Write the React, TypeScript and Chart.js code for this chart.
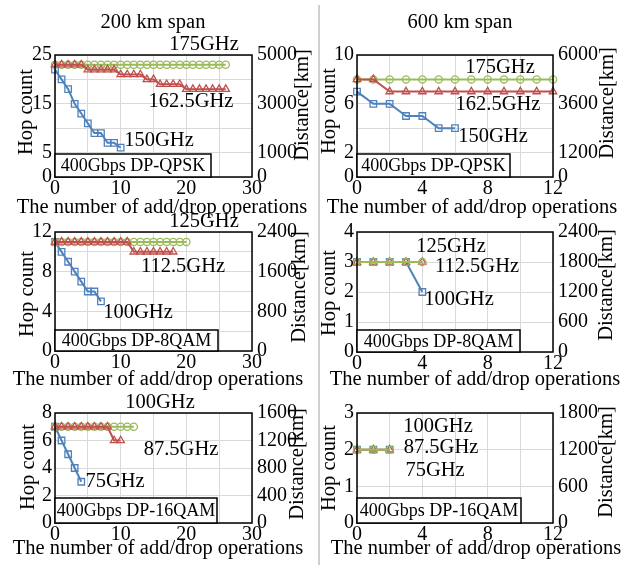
import React, { useEffect, useRef } from 'react';
import { Chart, registerables } from 'chart.js';

Chart.register(...registerables);

// ---------- data (hop count per number of add/drop operations; x = index) ----------
// 200 km span, 400Gbps DP-QPSK
const qpsk200_150 = [22, 20, 18, 15, 13, 11, 9, 9, 7, 7, 6];
const qpsk200_162 = [23, 23, 23, 23, 23, 22, 22, 22, 22, 22, 21, 21, 21, 21, 20, 20, 19, 19, 19, 19, 18, 18, 18, 18, 18, 18, 18];
const qpsk200_175 = [23, 23, 23, 23, 23, 23, 23, 23, 23, 23, 23, 23, 23, 23, 23, 23, 23, 23, 23, 23, 23, 23, 23, 23, 23, 23, 23];
// 600 km span, 400Gbps DP-QPSK
const qpsk600_150 = [7, 6, 6, 5, 5, 4, 4];
const qpsk600_162 = [8, 8, 7, 7, 7, 7, 7, 7, 7, 7, 7, 7, 7];
const qpsk600_175 = [8, 8, 8, 8, 8, 8, 8, 8, 8, 8, 8, 8, 8];
// 200 km span, 400Gbps DP-8QAM
const qam8_200_100 = [11, 10, 9, 8, 7, 6, 6, 5];
const qam8_200_112 = [11, 11, 11, 11, 11, 11, 11, 11, 11, 11, 11, 11, 10, 10, 10, 10, 10, 10, 10];
const qam8_200_125 = [11, 11, 11, 11, 11, 11, 11, 11, 11, 11, 11, 11, 11, 11, 11, 11, 11, 11, 11, 11, 11];
// 600 km span, 400Gbps DP-8QAM
const qam8_600_100 = [3, 3, 3, 3, 2];
const qam8_600_112 = [3, 3, 3, 3, 3];
const qam8_600_125 = [3, 3, 3, 3, 3];
// 200 km span, 400Gbps DP-16QAM
const qam16_200_75 = [7, 6, 5, 4, 3];
const qam16_200_87 = [7, 7, 7, 7, 7, 7, 7, 7, 7, 6, 6];
const qam16_200_100 = [7, 7, 7, 7, 7, 7, 7, 7, 7, 7, 7, 7, 7];
// 600 km span, 400Gbps DP-16QAM
const qam16_600_75 = [2, 2, 2];
const qam16_600_87 = [2, 2, 2];
const qam16_600_100 = [2, 2, 2];

// tick labels
const xLabels200 = [0, 10, 20, 30];
const xLabels600 = [0, 4, 8, 12];
const hopLabelsQ200 = [0, 5, 15, 25];
const distLabelsQ200 = [0, 1000, 3000, 5000];
const hopLabelsQ600 = [0, 2, 6, 10];
const distLabelsQ600 = [0, 1200, 3600, 6000];
const hopLabels8_200 = [0, 4, 8, 12];
const distLabels8_200 = [0, 800, 1600, 2400];
const hopLabels8_600 = [0, 1, 2, 3, 4];
const distLabels8_600 = [0, 600, 1200, 1800, 2400];
const hopLabels16_200 = [0, 2, 4, 6, 8];
const distLabels16_200 = [0, 400, 800, 1200, 1600];
const hopLabels16_600 = [0, 1, 2, 3];
const distLabels16_600 = [0, 600, 1200, 1800];

// ---------- styles ----------
const BLUE = '#4F81BD';
const RED = '#C0504D';
const GREEN = '#9BBB59';
const GRID = '#D9D9D9';
const FAMILY = '"Liberation Serif", "Times New Roman", serif';
const W = 636;
const H = 565;

const XTITLE = 'The number of add/drop operations';

const mk = (values: number[], color: string, marker: string, order: number, name: string) => ({ values, color, marker, order, name });

const panels = [
  {
    plot: { l: 55, t: 55, r: 252, b: 177 },
    xMax: 30, xStep: 5, xLabels: xLabels200,
    yMax: 25, yStep: 5, yLabels: hopLabelsQ200,
    dMax: 5000, dStep: 1000, dLabels: distLabelsQ200,
    series: [mk(qpsk200_150, BLUE, 'rect', 3, '150GHz'), mk(qpsk200_175, GREEN, 'circle', 2, '175GHz'), mk(qpsk200_162, RED, 'triangle', 1, '162.5GHz')],
    labels: [['175GHz', 204, 45], ['162.5GHz', 191, 102], ['150GHz', 159, 141]],
    box: { l: 55, t: 154, r: 211, b: 177, text: '400Gbps DP-QPSK' },
    hop: [27, 112], dist: [303, 105], xt: [162, 208], title: ['200 km span', 153, 23],
  },
  {
    plot: { l: 357, t: 55, r: 553, b: 177 },
    xMax: 12, xStep: 2, xLabels: xLabels600,
    yMax: 10, yStep: 2, yLabels: hopLabelsQ600,
    dMax: 6000, dStep: 1200, dLabels: distLabelsQ600,
    series: [mk(qpsk600_150, BLUE, 'rect', 3, '150GHz'), mk(qpsk600_175, GREEN, 'circle', 2, '175GHz'), mk(qpsk600_162, RED, 'triangle', 1, '162.5GHz')],
    labels: [['175GHz', 500, 68], ['162.5GHz', 498, 105], ['150GHz', 493, 137]],
    box: { l: 357, t: 154, r: 510, b: 177, text: '400Gbps DP-QPSK' },
    hop: [330, 111], dist: [608, 103], xt: [472, 208], title: ['600 km span', 460, 23],
  },
  {
    plot: { l: 55, t: 232, r: 252, b: 351 },
    xMax: 30, xStep: 5, xLabels: xLabels200,
    yMax: 12, yStep: 2, yLabels: hopLabels8_200,
    dMax: 2400, dStep: 400, dLabels: distLabels8_200,
    series: [mk(qam8_200_100, BLUE, 'rect', 3, '100GHz'), mk(qam8_200_125, GREEN, 'circle', 2, '125GHz'), mk(qam8_200_112, RED, 'triangle', 1, '112.5GHz')],
    labels: [['125GHz', 204, 222], ['112.5GHz', 183, 267], ['100GHz', 138, 313]],
    box: { l: 55, t: 330, r: 218, b: 351, text: '400Gbps DP-8QAM' },
    hop: [28, 294], dist: [300, 287], xt: [158, 380], title: null,
  },
  {
    plot: { l: 357, t: 232, r: 553, b: 352 },
    xMax: 12, xStep: 2, xLabels: xLabels600,
    yMax: 4, yStep: 1, yLabels: hopLabels8_600,
    dMax: 2400, dStep: 600, dLabels: distLabels8_600,
    series: [mk(qam8_600_100, BLUE, 'rect', 3, '100GHz'), mk(qam8_600_112, RED, 'triangle', 2, '112.5GHz'), mk(qam8_600_125, GREEN, 'circle', 1, '125GHz')],
    labels: [['125GHz', 451, 247], ['112.5GHz', 477, 267], ['100GHz', 459, 300]],
    box: { l: 357, t: 330, r: 520, b: 352, text: '400Gbps DP-8QAM' },
    hop: [330, 293], dist: [607, 285], xt: [475, 380], title: null,
  },
  {
    plot: { l: 55, t: 413, r: 252, b: 523 },
    xMax: 30, xStep: 5, xLabels: xLabels200,
    yMax: 8, yStep: 2, yLabels: hopLabels16_200,
    dMax: 1600, dStep: 400, dLabels: distLabels16_200,
    series: [mk(qam16_200_75, BLUE, 'rect', 3, '75GHz'), mk(qam16_200_100, GREEN, 'circle', 2, '100GHz'), mk(qam16_200_87, RED, 'triangle', 1, '87.5GHz')],
    labels: [['100GHz', 160, 403], ['87.5GHz', 181, 450], ['75GHz', 115, 482]],
    box: { l: 55, t: 498, r: 217, b: 523, text: '400Gbps DP-16QAM' },
    hop: [29, 467], dist: [298, 464], xt: [158, 549], title: null,
  },
  {
    plot: { l: 357, t: 413, r: 553, b: 523 },
    xMax: 12, xStep: 2, xLabels: xLabels600,
    yMax: 3, yStep: 1, yLabels: hopLabels16_600,
    dMax: 1800, dStep: 600, dLabels: distLabels16_600,
    series: [mk(qam16_600_75, BLUE, 'rect', 3, '75GHz'), mk(qam16_600_87, RED, 'triangle', 2, '87.5GHz'), mk(qam16_600_100, GREEN, 'circle', 1, '100GHz')],
    labels: [['100GHz', 438, 427], ['87.5GHz', 441, 448], ['75GHz', 435, 471]],
    box: { l: 357, t: 498, r: 521, b: 523, text: '400Gbps DP-16QAM' },
    hop: [330, 468], dist: [607, 462], xt: [476, 549], title: null,
  },
];

// fixed axis box thicknesses (large enough that tick labels are not clipped)
const AXL = 45;
const AXR = 60;
const AXB = 30;

function Panel({ cfg }: { cfg: any }) {
  const ref = useRef<HTMLCanvasElement | null>(null);
  useEffect(() => {
    const p = cfg.plot;
    const tickFont = { family: FAMILY, size: 20 };
    const textPlugin = {
      id: 'panelText',
      afterDraw(chart: any) {
        const ctx = chart.ctx;
        const a = chart.chartArea;
        ctx.save();
        // plot border
        ctx.strokeStyle = '#000';
        ctx.lineWidth = 1.5;
        ctx.strokeRect(a.left, a.top, a.right - a.left, a.bottom - a.top);
        // modulation box
        const b = cfg.box;
        ctx.fillStyle = '#fff';
        ctx.fillRect(b.l, b.t, b.r - b.l, b.b - b.t);
        ctx.strokeRect(b.l, b.t, b.r - b.l, b.b - b.t);
        ctx.fillStyle = '#000';
        ctx.textAlign = 'center';
        ctx.textBaseline = 'middle';
        ctx.font = `18px ${FAMILY}`;
        ctx.fillText(b.text, (b.l + b.r) / 2, (b.t + b.b) / 2 + 1);
        // series labels
        ctx.font = `20.5px ${FAMILY}`;
        cfg.labels.forEach((l: any) => ctx.fillText(l[0], l[1], l[2]));
        // titles
        if (cfg.title) ctx.fillText(cfg.title[0], cfg.title[1], cfg.title[2]);
        ctx.fillText(XTITLE, cfg.xt[0], cfg.xt[1]);
        const vtext = (t: string, x: number, y: number) => {
          ctx.save();
          ctx.translate(x, y);
          ctx.rotate(-Math.PI / 2);
          ctx.fillText(t, 0, 0);
          ctx.restore();
        };
        vtext('Hop count', cfg.hop[0], cfg.hop[1]);
        vtext('Distance[km]', cfg.dist[0], cfg.dist[1]);
        ctx.restore();
      },
    };
    const chart = new Chart(ref.current as HTMLCanvasElement, {
      type: 'line',
      data: {
        datasets: cfg.series.map((s: any) => ({
          label: s.name,
          data: s.values.map((v: number, i: number) => ({ x: i, y: v })),
          borderColor: s.color,
          backgroundColor: s.color,
          borderWidth: 2,
          pointStyle: s.marker,
          pointRadius: s.marker === 'circle' ? 3.6 : s.marker === 'rect' ? 4.6 : 4.3,
          pointBorderWidth: 1.3,
          pointBackgroundColor: 'rgba(255,255,255,0)',
          pointBorderColor: s.color,
          tension: 0,
          order: s.order,
          clip: false,
          xAxisID: 'x',
          yAxisID: 'y',
        })),
      },
      options: {
        responsive: false,
        animation: false,
        devicePixelRatio: 1,
        events: [],
        layout: { padding: { left: p.l - AXL, right: W - p.r - AXR, top: p.t, bottom: H - p.b - AXB } },
        plugins: { legend: { display: false }, tooltip: { enabled: false }, title: { display: false } },
        scales: {
          x: {
            type: 'linear', position: 'bottom', min: 0, max: cfg.xMax,
            ticks: {
              stepSize: cfg.xStep, autoSkip: false, maxRotation: 0, padding: 0, color: '#000', font: tickFont,
              callback: (v: any) => (cfg.xLabels.includes(Number(v)) ? String(v) : ''),
            },
            grid: { color: GRID, lineWidth: 1, drawTicks: false },
            border: { display: false },
            afterFit: (s: any) => { s.height = AXB; },
          },
          y: {
            type: 'linear', position: 'left', min: 0, max: cfg.yMax,
            ticks: {
              stepSize: cfg.yStep, autoSkip: false, padding: 3, color: '#000', font: tickFont,
              callback: (v: any) => (cfg.yLabels.includes(Number(v)) ? String(v) : ''),
            },
            grid: { color: GRID, lineWidth: 1, drawTicks: false },
            border: { display: false },
            afterFit: (s: any) => { s.width = AXL; },
          },
          y2: {
            type: 'linear', position: 'right', min: 0, max: cfg.dMax,
            ticks: {
              stepSize: cfg.dStep, autoSkip: false, padding: 5, color: '#000', font: tickFont,
              callback: (v: any) => (cfg.dLabels.includes(Number(v)) ? String(v) : ''),
            },
            grid: { display: false, drawTicks: false },
            border: { display: false },
            afterFit: (s: any) => { s.width = AXR; },
          },
        },
      },
      plugins: [textPlugin],
    } as any);
    return () => chart.destroy();
  }, [cfg]);
  return (
    <canvas
      ref={ref}
      width={W}
      height={H}
      style={{ position: 'absolute', left: 0, top: 0, width: W, height: H }}
    />
  );
}

export default function App() {
  return (
    <div style={{ position: 'fixed', left: 0, top: 0, width: W, height: H, background: '#fff', overflow: 'hidden' }}>
      <div style={{ position: 'absolute', left: 318, top: 5, width: 2, height: H - 5, background: '#D0D0D0' }} />
      {panels.map((cfg, i) => (
        <Panel key={i} cfg={cfg} />
      ))}
    </div>
  );
}
